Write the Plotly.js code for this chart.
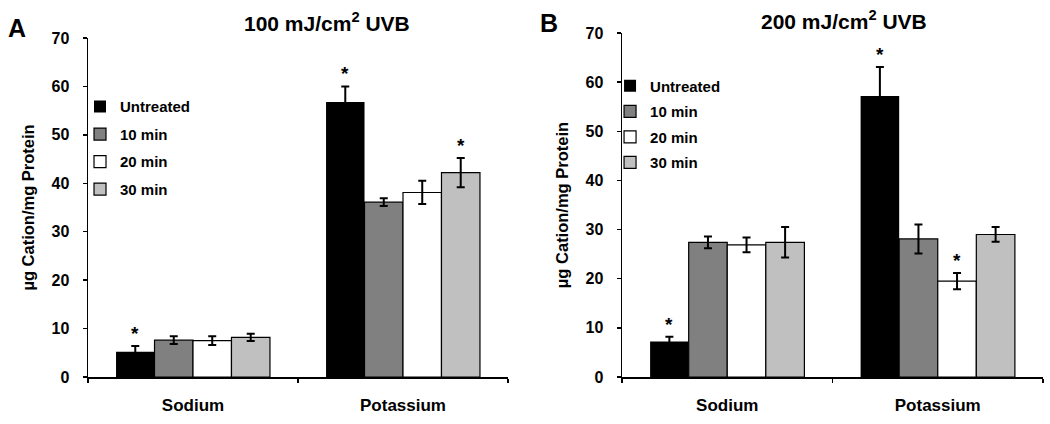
<!DOCTYPE html>
<html><head><meta charset="utf-8">
<script src="https://cdn.plot.ly/plotly-3.0.1.min.js"></script>
<style>body{margin:0;background:#fff}#chart{width:1050px;height:424px}</style>
</head><body><div id="chart"></div>
<script>
const categories = ["Sodium", "Potassium"];
const seriesNames = ["Untreated", "10 min", "20 min", "30 min"];
// Panel A: 100 mJ/cm2 UVB
const aUntreated = [5.2, 56.8];
const a10 = [7.6, 36.1];
const a20 = [7.5, 38.1];
const a30 = [8.2, 42.2];
const aUntreatedErr = [1.2, 3.2];
const a10Err = [0.8, 0.8];
const a20Err = [0.9, 2.4];
const a30Err = [0.75, 3.0];
// Panel B: 200 mJ/cm2 UVB
const bUntreated = [7.2, 57.2];
const b10 = [27.4, 28.1];
const b20 = [26.9, 19.5];
const b30 = [27.4, 29.0];
const bUntreatedErr = [1.0, 5.9];
const b10Err = [1.2, 2.95];
const b20Err = [1.5, 1.65];
const b30Err = [3.1, 1.5];
// significance markers: [seriesIndex, categoryIndex]
const aStars = [[0, 0], [0, 1], [3, 1]];
const bStars = [[0, 0], [0, 1], [2, 1]];

const colors = ["#000000", "#808080", "#ffffff", "#c0c0c0"];
const FONT = "Liberation Sans, Arial, sans-serif";
const bargap = 0.267;

function makeTraces(vals, errs, xa, ya, legendName) {
  return vals.map((v, i) => ({
    type: "bar", x: categories, y: v, name: seriesNames[i],
    xaxis: xa, yaxis: ya, legend: legendName, legendgroup: legendName + i,
    marker: {color: colors[i], line: {color: "#000", width: i === 0 ? 0 : 1.2}},
    error_y: {type: "data", array: errs[i], visible: true, color: "#000", thickness: 2, width: 4}
  }));
}
const traces = [
  ...makeTraces([aUntreated, a10, a20, a30], [aUntreatedErr, a10Err, a20Err, a30Err], "x", "y", "legend"),
  ...makeTraces([bUntreated, b10, b20, b30], [bUntreatedErr, b10Err, b20Err, b30Err], "x2", "y2", "legend2")
];

function starAnn(stars, vals, errs, xref, yref) {
  return stars.map(([s, c]) => ({
    xref: xref, yref: yref,
    x: c + (s - 1.5) * (1 - bargap) / 4,
    y: vals[s][c] + errs[s][c],
    text: "*", showarrow: false, yanchor: "bottom", yshift: 0,
    font: {family: FONT, size: 19, color: "#000", weight: "bold"}
  }));
}

const tickFont = {family: FONT, size: 16, color: "#000", weight: "bold"};
const yAxisBase = {
  range: [0, 70], dtick: 10, showline: true, linecolor: "#000", linewidth: 1.5,
  ticks: "outside", ticklen: 4, tickcolor: "#000", tickwidth: 1.5,
  showgrid: false, zeroline: false, tickfont: tickFont, ticklabelstandoff: 10,
  title: {text: "µg Cation/mg Protein", font: {family: FONT, size: 16.5, color: "#000", weight: "bold"}, standoff: 12}
};
const xAxisBase = {
  type: "category", showline: true, linecolor: "#000", linewidth: 1.5,
  ticks: "outside", tickson: "boundaries", ticklen: 4, tickcolor: "#000", tickwidth: 1.5,
  showgrid: false, tickfont: {family: FONT, size: 17, color: "#000", weight: "bold"}, ticklabelstandoff: 12
};
const legendBase = {
  font: {family: FONT, size: 15, color: "#000", weight: "bold"},
  bgcolor: "rgba(0,0,0,0)", traceorder: "grouped", itemwidth: 30
};

const layout = {
  width: 1050, height: 424, margin: {l: 0, r: 0, t: 0, b: 0},
  paper_bgcolor: "#fff", plot_bgcolor: "#fff",
  barmode: "group", bargap: bargap, bargroupgap: 0,
  xaxis: Object.assign({}, xAxisBase, {domain: [88/1050, 508/1050], anchor: "y"}),
  yaxis: Object.assign({}, yAxisBase, {domain: [47/424, 386/424], anchor: "x"}),
  xaxis2: Object.assign({}, xAxisBase, {domain: [622/1050, 1043/1050], anchor: "y2"}),
  yaxis2: Object.assign({}, yAxisBase, {domain: [47/424, 391/424], anchor: "x2"}),
  legend: Object.assign({}, legendBase, {x: 0.0762, y: 0.787, xanchor: "left", yanchor: "top", tracegroupgap: 5}),
  legend2: Object.assign({}, legendBase, {x: 0.581, y: 0.836, xanchor: "left", yanchor: "top", tracegroupgap: 3}),
  annotations: [
    ...starAnn(aStars, [aUntreated, a10, a20, a30], [aUntreatedErr, a10Err, a20Err, a30Err], "x", "y"),
    ...starAnn(bStars, [bUntreated, b10, b20, b30], [bUntreatedErr, b10Err, b20Err, b30Err], "x2", "y2"),
    {xref: "paper", yref: "paper", x: 327/1050, y: 1 - 22/424, xanchor: "center", yanchor: "middle",
     text: "100 mJ/cm<sup>2</sup> UVB", showarrow: false,
     font: {family: FONT, size: 21, color: "#000", weight: "bold"}},
    {xref: "paper", yref: "paper", x: 844/1050, y: 1 - 20/424, xanchor: "center", yanchor: "middle",
     text: "200 mJ/cm<sup>2</sup> UVB", showarrow: false,
     font: {family: FONT, size: 21, color: "#000", weight: "bold"}},
    {xref: "paper", yref: "paper", x: 17/1050, y: 1 - 28/424, xanchor: "center", yanchor: "middle",
     text: "A", showarrow: false, font: {family: FONT, size: 25, color: "#000", weight: "bold"}},
    {xref: "paper", yref: "paper", x: 549/1050, y: 1 - 23/424, xanchor: "center", yanchor: "middle",
     text: "B", showarrow: false, font: {family: FONT, size: 25, color: "#000", weight: "bold"}}
  ]
};
Plotly.newPlot("chart", traces, layout, {displayModeBar: false, staticPlot: true});
</script></body></html>
